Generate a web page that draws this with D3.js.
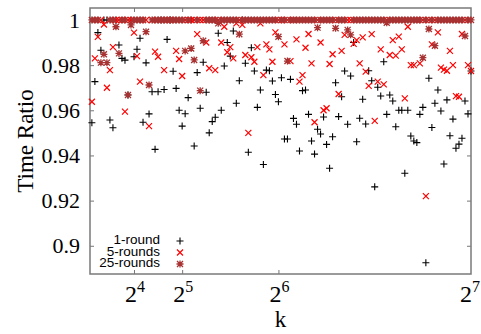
<!DOCTYPE html>
<html>
<head>
<meta charset="utf-8">
<script src="https://cdn.jsdelivr.net/npm/d3@7"></script>
<style>
  body { margin: 0; background: #fff; }
</style>
</head>
<body>
<div id="chart"></div>
<script>
// k values, one point per k for every series
const ks = d3.range(2, 129);

// time ratio, k = 2 .. 128
const oneRound = [
  .9545, .9727, .9944, .9866, 1, 1, .9557, .9523, 1, .9889,
  .983, .9822, .9668, 1, .9837, .987, .9919, .9547, .981, .9584,
  .9682, .9427, .9682, 1, .9692, .9914, 1, .9773, .9697, .960,
  .953, .9585, .9656, 1, .9442, .9767, .9609, .9813, .968, .950,
  .955, .9569, .9941, .960, .9796, .990, .984, .9951, .9631, .9731,
  1, .9808, .9414, .9877, .9774, .9613, .969, .936, .9778, .9775,
  .973, .967, .9638, .9744, .9473, .9473, .9737, .9564, .9538, .942,
  .9687, .969, .9582, .9464, .9406, .9516, .9495, .957, .9449, .9343,
  .9483, .9722, .9572, .966, .9774, .9538, .9752, .990, .9461, .9565,
  .9649, .9539, .9775, .9731, .9261, .9702, .9663, .9815, .9582, .9668,
  .9641, .9527, .960, .960, .9321, .960, .9486, .9464, .9457, .9582,
  .9613, .8925, .9742, .9524, .9631, .969, .9597, .9362, .9646, .9487,
  .9561, .9432, .945, .9476, .9641, .9584, .9774
];

const fiveRounds = [
  .9638, .983, .9925, 1, .998, .970, .9778, .988, 1, 1,
  1, .9594, 1, 1, .9944, .984, .9727, 1, 1, .953,
  1, .986, .9837, 1, .9778, 1, 1, 1, .9863, .9827,
  .9752, 1, 1, 1, 1, .9937, 1, 1, .990, .9786,
  1, .9778, 1, .990, .997, .9857, .988, .983, .9985, 1,
  .9978, .9845, .950, .9835, .9815, .988, .9985, .9756, .9892, .987,
  .9815, .9945, 1, 1, .9892, 1, .9818, 1, .9914, .9727,
  .9756, .9877, .9938, .9808, .9547, 1, .990, .960, .9609, .9805,
  .9848, 1, .9672, .9863, .9934, 1, 1, .9894, .9911, .9808,
  .9923, .9771, .9708, .9937, .9553, .9727, .987, .9715, 1, .9845,
  .9911, .9842, .9926, .987, .9653, .997, .980, .980, 1, .9808,
  1, .922, 1, .9892, 1, .9945, .9789, .978, .9775, .9863,
  .980, .9663, .966, .9938, 1, .980, .9774
];

const twentyFiveRounds = [
  1, 1, 1, .9811, .9848, .9811, 1, 1, .997, .9852,
  1, 1, .9668, .9978, 1, 1, 1, 1, .9948, .9712,
  1, 1, 1, 1, 1, 1, 1, 1, 1, 1,
  1, .9863, 1, .9874, .9823, 1, .9687, .9908, 1, 1,
  1, 1, .9985, 1, 1, 1, 1, 1, 1, .9937,
  1, 1, 1, 1, 1, 1, 1, 1, 1, 1,
  1, 1, .9926, 1, 1, .9818, 1, 1, 1, 1,
  1, 1, 1, 1, 1, .9966, 1, 1, 1, 1,
  1, .9963, 1, 1, 1, .9956, .9934, 1, 1, 1,
  1, 1, 1, 1, 1, 1, 1, 1, .9988, 1,
  1, 1, 1, 1, 1, 1, 1, 1, 1, 1,
  .9833, 1, .996, 1, .9886, 1, 1, 1, 1, 1,
  1, 1, 1, 1, .9929, 1, 1
];

const seriesNames = ['1-round', '5-rounds', '25-rounds'];
const xTicks = [16, 32, 64, 128];
const xExponents = ['4', '5', '6', '7'];
const yTicks = [0.9, 0.92, 0.94, 0.96, 0.98, 1];

const width = 481, height = 334;
const margin = { top: 8, right: 10, bottom: 60, left: 90 };
const serif = '"Liberation Serif", "Times New Roman", serif';
const sans = '"Liberation Sans", Arial, sans-serif';

const x = d3.scaleLinear([1.377, 128], [margin.left, width - margin.right]);
const y = d3.scaleLinear([0.8875, 1.0053], [height - margin.bottom, margin.top]);

const svg = d3.select('#chart').append('svg')
  .attr('width', width)
  .attr('height', height);

// markers: +, x and * like gnuplot
const plus = 'M-3.5,0H3.5M0,-3.5V3.5';
const cross = 'M-3,-3L3,3M-3,3L3,-3';
const star = plus + cross;
const styles = [
  { path: plus, color: '#000', width: 1.1 },
  { path: cross, color: '#ff0000', width: 1.2 },
  { path: star, color: '#a83232', width: 1.3 }
];

// axes
const yAxisL = d3.axisLeft(y).tickValues(yTicks).tickSize(-4).tickPadding(10)
  .tickFormat(d => String(d));
const yAxisR = d3.axisRight(y).tickValues(yTicks).tickSize(-4).tickFormat('');
const xAxisB = d3.axisBottom(x).tickValues(xTicks.slice(0, 3)).tickSize(-4).tickFormat('');
const xAxisT = d3.axisTop(x).tickValues(xTicks.slice(0, 3)).tickSize(-4).tickFormat('');

const gl = svg.append('g').attr('transform', `translate(${margin.left},0)`).call(yAxisL);
svg.append('g').attr('transform', `translate(${width - margin.right},0)`).call(yAxisR);
svg.append('g').attr('transform', `translate(0,${height - margin.bottom})`).call(xAxisB);
svg.append('g').attr('transform', `translate(0,${margin.top})`).call(xAxisT);

svg.selectAll('.domain').remove();
svg.selectAll('.tick line').attr('stroke', '#777').attr('stroke-width', 1);
gl.attr('font-family', null).attr('font-size', null);
gl.selectAll('.tick text')
  .style('font-family', serif)
  .style('font-size', '22px')
  .attr('fill', '#000');

// x tick labels as powers of two
const xl = svg.append('g')
  .style('font-family', serif)
  .attr('fill', '#000');
xTicks.forEach((t, i) => {
  const tx = xl.append('text')
    .attr('x', x(t) + (i === 3 ? -1 : 1))
    .attr('y', 302)
    .attr('text-anchor', 'middle');
  tx.append('tspan').style('font-size', '24px').text('2');
  tx.append('tspan').style('font-size', '16px').attr('dy', -10).text(xExponents[i]);
});

// frame
svg.append('rect')
  .attr('x', margin.left)
  .attr('y', margin.top)
  .attr('width', width - margin.right - margin.left)
  .attr('height', height - margin.bottom - margin.top)
  .attr('fill', 'none')
  .attr('stroke', '#7a7a7a')
  .attr('stroke-width', 1.5);

// axis titles
svg.append('text')
  .attr('transform', `translate(33,${(margin.top + height - margin.bottom) / 2}) rotate(-90)`)
  .attr('text-anchor', 'middle')
  .style('font-family', serif)
  .style('font-size', '23px')
  .text('Time Ratio');

svg.append('text')
  .attr('x', (margin.left + width - margin.right) / 2)
  .attr('y', 327)
  .attr('text-anchor', 'middle')
  .style('font-family', serif)
  .style('font-size', '23px')
  .text('k');

// points
const series = [oneRound, fiveRounds, twentyFiveRounds];
series.forEach((vals, s) => {
  const st = styles[s];
  svg.append('g')
    .selectAll('path')
    .data(ks.map((k, i) => [k, vals[i]]))
    .join('path')
    .attr('transform', d => `translate(${x(d[0])},${y(d[1])})`)
    .attr('d', st.path)
    .attr('fill', 'none')
    .attr('stroke', st.color)
    .attr('stroke-width', st.width);
});

// legend
const legend = svg.append('g')
  .style('font-family', sans)
  .style('font-size', '13.5px');
seriesNames.forEach((name, i) => {
  const ly = 244 + i * 11.5;
  legend.append('text')
    .attr('x', 160)
    .attr('y', ly)
    .attr('text-anchor', 'end')
    .text(name);
  legend.append('path')
    .attr('transform', `translate(180,${ly - 3})`)
    .attr('d', styles[i].path)
    .attr('fill', 'none')
    .attr('stroke', styles[i].color)
    .attr('stroke-width', styles[i].width);
});
</script>
</body>
</html>
